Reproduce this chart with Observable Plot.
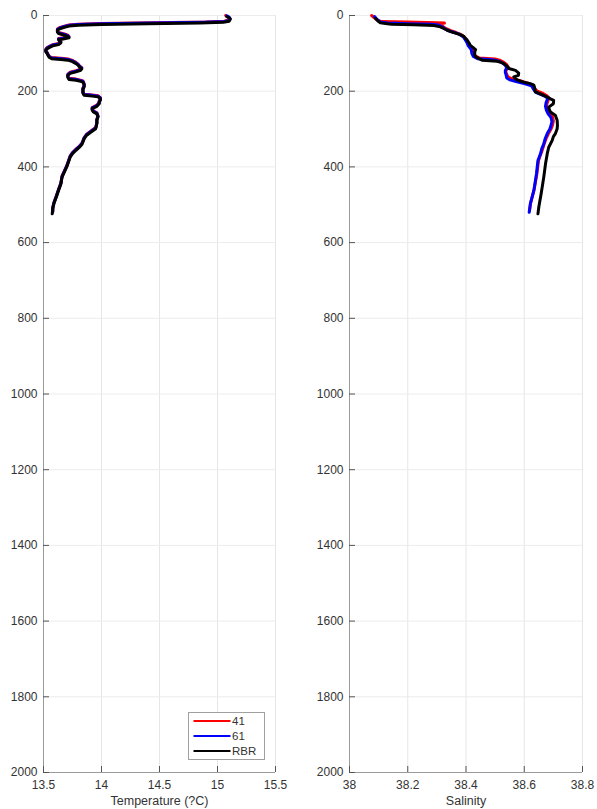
<!DOCTYPE html>
<html>
<head>
<meta charset="utf-8">
<script src="https://cdn.jsdelivr.net/npm/d3@7"></script>
<script src="https://cdn.jsdelivr.net/npm/@observablehq/plot@0.6"></script>
<style>
  body { margin: 0; background: #fff; }
  #wrap { position: relative; width: 597px; height: 809px; font-family: "Liberation Sans", Arial, sans-serif; }
  #wrap > div.panel { position: absolute; top: 0; }
  #legend { position: absolute; left: 188px; top: 712px; }
</style>
</head>
<body>
<div id="wrap">
  <div class="panel" id="left" style="left:0px"></div>
  <div class="panel" id="right" style="left:300px"></div>
  <svg id="legend" width="78" height="50"></svg>
</div>
<script>
// ---- data: [depth, value] pairs ----
const seriesNames = ["41", "61", "RBR"];
const seriesColors = ["#ff0000", "#0000ff", "#000000"];

const temp41 = [[0,15.07],[3,15.09],[8,15.10],[12,15.10],[15,15.06],[17,14.9],[19,14.45],[21,14.0],[23,13.8],[25,13.72],[28,13.68],[32,13.64],[36,13.62],[41,13.62],[45,13.63],[49,13.68],[52,13.71],[56,13.72],[59,13.67],[61,13.63],[65,13.64],[69,13.65],[74,13.63],[77,13.58],[80,13.56],[85,13.53],[89,13.52],[93,13.52],[97,13.53],[103,13.54],[108,13.55],[111,13.57],[113,13.65],[115,13.71],[119,13.75],[124,13.78],[129,13.80],[133,13.81],[138,13.83],[142,13.82],[146,13.78],[150,13.73],[155,13.71],[161,13.71],[166,13.72],[168,13.78],[171,13.82],[173,13.84],[180,13.85],[186,13.85],[192,13.84],[202,13.84],[208,13.85],[210,13.92],[212,13.97],[217,13.99],[221,13.99],[226,13.98],[230,13.98],[237,13.96],[243,13.92],[247,13.92],[252,13.93],[257,13.96],[265,13.97],[274,13.96],[283,13.96],[296,13.95],[305,13.91],[314,13.87],[323,13.85],[331,13.84],[338,13.83],[345,13.81],[353,13.78],[362,13.75],[371,13.73],[380,13.72],[397,13.70],[424,13.66],[442,13.65],[459,13.63],[477,13.61],[494,13.59],[507,13.58],[517,13.58]];

const temp61 = [[1,15.08],[4,15.10],[9,15.11],[13,15.10],[16,15.06],[18,14.88],[20,14.42],[22,14.0],[24,13.8],[26,13.72],[29,13.68],[33,13.64],[37,13.62],[42,13.62],[46,13.63],[50,13.68],[53,13.71],[57,13.72],[60,13.67],[62,13.63],[66,13.64],[70,13.65],[75,13.63],[78,13.58],[81,13.56],[86,13.53],[90,13.52],[94,13.52],[98,13.53],[104,13.54],[109,13.55],[112,13.57],[114,13.65],[116,13.71],[120,13.75],[125,13.78],[130,13.80],[134,13.81],[139,13.83],[143,13.82],[147,13.78],[151,13.73],[156,13.71],[162,13.71],[167,13.72],[169,13.78],[172,13.82],[174,13.84],[181,13.85],[187,13.85],[193,13.84],[203,13.84],[209,13.85],[211,13.92],[213,13.97],[218,13.99],[222,13.99],[227,13.98],[231,13.98],[238,13.96],[244,13.92],[248,13.92],[253,13.93],[258,13.96],[266,13.97],[275,13.96],[284,13.96],[297,13.95],[306,13.91],[315,13.87],[324,13.85],[332,13.84],[339,13.83],[346,13.81],[354,13.78],[363,13.75],[372,13.73],[381,13.72],[398,13.70],[425,13.66],[443,13.65],[460,13.63],[478,13.61],[495,13.59],[508,13.58],[519,13.58]];

const tempRBR = [[3,15.08],[6,15.10],[10,15.11],[15,15.10],[18,15.05],[20,14.85],[22,14.40],[24,14.00],[26,13.80],[28,13.72],[31,13.68],[35,13.64],[39,13.62],[44,13.62],[48,13.63],[52,13.68],[55,13.71],[59,13.72],[62,13.67],[64,13.63],[68,13.64],[72,13.65],[77,13.63],[80,13.58],[83,13.56],[88,13.53],[92,13.52],[96,13.52],[100,13.53],[106,13.54],[111,13.55],[114,13.57],[116,13.65],[118,13.71],[122,13.75],[127,13.78],[132,13.80],[136,13.81],[141,13.83],[145,13.82],[149,13.78],[153,13.73],[158,13.71],[164,13.71],[169,13.72],[171,13.78],[174,13.82],[176,13.84],[183,13.85],[189,13.85],[195,13.84],[205,13.84],[211,13.85],[213,13.92],[215,13.97],[220,13.99],[224,13.99],[229,13.98],[233,13.98],[240,13.96],[246,13.92],[250,13.92],[255,13.93],[260,13.96],[268,13.97],[277,13.96],[286,13.96],[299,13.95],[308,13.91],[317,13.87],[326,13.85],[334,13.84],[341,13.83],[348,13.81],[356,13.78],[365,13.75],[374,13.73],[383,13.72],[400,13.70],[427,13.66],[445,13.65],[462,13.63],[480,13.61],[497,13.59],[510,13.58],[524,13.575]];

const sal41 = [[0,38.076],[4,38.082],[9,38.090],[13,38.098],[16,38.110],[17.5,38.20],[19,38.30],[20,38.326],[22,38.315],[26,38.318],[30,38.322],[35,38.332],[40,38.348],[45,38.366],[50,38.382],[55,38.392],[62,38.399],[70,38.405],[80,38.412],[88,38.425],[97,38.428],[106,38.430],[112,38.445],[115,38.500],[118,38.515],[124,38.530],[130,38.540],[136,38.545],[142,38.540],[148,38.536],[156,38.540],[163,38.545],[168,38.560],[172,38.585],[178,38.610],[184,38.630],[193,38.636],[200,38.645],[206,38.665],[212,38.678],[218,38.685],[228,38.680],[238,38.676],[248,38.680],[258,38.690],[268,38.697],[278,38.700],[290,38.697],[300,38.692],[312,38.683],[325,38.675],[340,38.668],[355,38.662],[370,38.655],[383,38.649],[420,38.643],[460,38.634],[495,38.622],[516,38.618]];

const sal61 = [[3,38.086],[8,38.092],[14,38.100],[18,38.108],[20,38.130],[21.5,38.200],[23,38.280],[25,38.305],[30,38.318],[35,38.328],[40,38.340],[45,38.360],[50,38.378],[56,38.390],[62,38.396],[70,38.402],[80,38.408],[90,38.418],[100,38.420],[108,38.425],[114,38.440],[117,38.490],[120,38.510],[125,38.525],[132,38.535],[138,38.540],[145,38.535],[150,38.535],[158,38.538],[165,38.540],[170,38.550],[175,38.575],[180,38.600],[186,38.625],[195,38.632],[203,38.640],[210,38.660],[215,38.675],[220,38.680],[230,38.675],[240,38.673],[250,38.676],[260,38.682],[270,38.692],[280,38.695],[290,38.692],[300,38.688],[312,38.679],[325,38.672],[339,38.667],[352,38.660],[365,38.656],[383,38.647],[418,38.642],[462,38.633],[497,38.621],[520,38.617]];

const salRBR = [[8,38.090],[11,38.093],[16,38.100],[19.5,38.106],[22,38.130],[23,38.145],[24.5,38.220],[26.5,38.290],[30,38.312],[35,38.325],[39,38.335],[44,38.352],[48,38.370],[52,38.384],[55,38.392],[60,38.398],[65,38.404],[72,38.410],[79,38.415],[85,38.425],[90,38.433],[96,38.430],[103,38.430],[109,38.433],[114,38.445],[118,38.455],[121,38.507],[124,38.520],[127,38.530],[133,38.540],[140,38.547],[145,38.570],[152,38.581],[158,38.580],[162,38.564],[167,38.570],[171,38.578],[176,38.598],[180,38.621],[184,38.633],[192,38.636],[202,38.638],[207,38.655],[211,38.667],[216,38.680],[220,38.690],[224,38.701],[233,38.700],[242,38.684],[248,38.686],[255,38.690],[260,38.700],[264,38.707],[277,38.713],[290,38.714],[299,38.713],[312,38.707],[320,38.700],[330,38.696],[348,38.684],[365,38.679],[392,38.673],[427,38.667],[471,38.658],[506,38.650],[524,38.647]];

const depthTicks = [0,200,400,600,800,1000,1200,1400,1600,1800,2000];
const tempTicks = [13.5,14,14.5,15,15.5];
const salTicks = [38,38.2,38.4,38.6,38.8];

// ---- build tables ----
function table(groups) {
  const rows = [];
  groups.forEach((g, i) => g.forEach(([depth, value]) => rows.push({series: seriesNames[i], depth, value})));
  return rows;
}
const tempRows = table([temp41, temp61, tempRBR]);
const salRows = table([sal41, sal61, salRBR]);

const H = 809, MT = 15, MB = 37;
const FONT = '"Liberation Sans", Arial, sans-serif';
function panel(rows, xTicks, label, marginLeft, marginRight, width) {
  const plotW = width - marginLeft - marginRight;
  const plotH = H - MT - MB;
  return Plot.plot({
    width, height: H,
    marginLeft, marginRight, marginTop: MT, marginBottom: MB,
    style: {fontFamily: FONT, fontSize: "12px", color: "#333", background: "#fff", overflow: "visible"},
    x: {domain: [xTicks[0], xTicks[xTicks.length - 1]], ticks: xTicks, tickFormat: d => String(d), tickSize: 0, tickPadding: 8, label: null},
    y: {domain: [0, 2000], reverse: true, ticks: depthTicks, tickFormat: d => String(d), tickSize: 0, tickPadding: 6, label: null},
    color: {domain: seriesNames, range: seriesColors},
    marks: [
      Plot.ruleX(xTicks, {stroke: "#e6e6e6", strokeWidth: 1}),
      Plot.ruleY(depthTicks, {stroke: "#ececec", strokeWidth: 1}),
      Plot.line(rows, {x: "value", y: "depth", z: "series", stroke: "series", strokeWidth: 3, strokeLinejoin: "round", strokeLinecap: "round"}),
      Plot.ruleX([xTicks[0]], {stroke: "#9a9a9a", strokeWidth: 1}),
      Plot.ruleY([2000], {stroke: "#9a9a9a", strokeWidth: 1}),
      Plot.tickY(depthTicks, {y: d => d, insetRight: plotW - 6, stroke: "#555", strokeWidth: 1}),
      Plot.tickX(xTicks, {x: d => d, insetTop: plotH - 6, stroke: "#555", strokeWidth: 1}),
      Plot.text([label], {text: d => d, frameAnchor: "bottom", dy: 28, lineAnchor: "middle", fontSize: 12.5, fill: "#333"})
    ]
  });
}

document.getElementById("left").appendChild(panel(tempRows, tempTicks, "Temperature (?C)", 43, 25, 300));
document.getElementById("right").appendChild(panel(salRows, salTicks, "Salinity", 49, 15, 297));

// ---- legend ----
const lg = d3.select("#legend");
lg.append("rect").attr("x", 0.5).attr("y", 0.5).attr("width", 76).attr("height", 47)
  .attr("fill", "#fff").attr("stroke", "#a0a0a0");
seriesNames.forEach((name, i) => {
  const y = 9 + i * 15;
  lg.append("line").attr("x1", 5.5).attr("x2", 42.5).attr("y1", y).attr("y2", y)
    .attr("stroke", seriesColors[i]).attr("stroke-width", 2);
  lg.append("text").attr("x", 44).attr("y", y).attr("dy", "0.35em")
    .attr("font-size", 11.5).attr("font-family", FONT)
    .attr("fill", "#333").text(name);
});
</script>
</body>
</html>
